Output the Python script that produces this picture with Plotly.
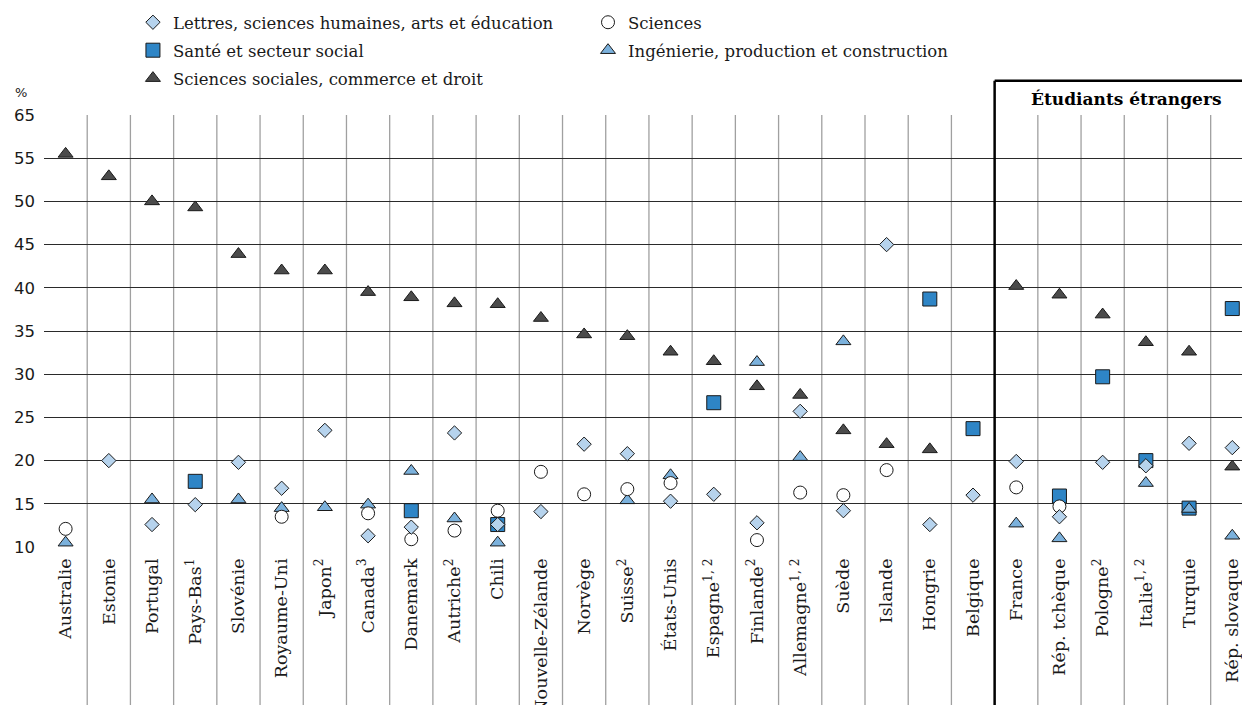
import plotly.graph_objects as go

countries = ["Australie", "Estonie", "Portugal", "Pays-Bas<sup>1</sup>", "Slovénie",
             "Royaume-Uni", "Japon<sup>2</sup>", "Canada<sup>3</sup>", "Danemark",
             "Autriche<sup>2</sup>", "Chili", "Nouvelle-Zélande", "Norvège",
             "Suisse<sup>2</sup>", "États-Unis", "Espagne<sup>1, 2</sup>",
             "Finlande<sup>2</sup>", "Allemagne<sup>1, 2</sup>", "Suède", "Islande",
             "Hongrie", "Belgique", "France", "Rép. tchèque", "Pologne<sup>2</sup>",
             "Italie<sup>1, 2</sup>", "Turquie", "Rép. slovaque"]

lettres = [None, 20.0, 12.6, 14.9, 19.8, 16.8, 23.5, 11.3, 12.3, 23.2, 12.6, 14.1, 21.9, 20.8,
           15.3, 16.1, 12.8, 25.7, 14.2, 45.0, 12.6, 16.0, 19.9, 13.5, 19.8, 19.4, 22.0, 21.5]
sante = [None, None, None, 17.6, None, None, None, None, 14.2, None, 12.6, None, None, None,
         None, 26.7, None, None, None, None, 38.7, 23.7, None, 15.9, 29.7, 20.0, 14.5, 37.6]
sociales = [55.5, 52.9, 50.0, 49.3, 43.9, 42.0, 42.0, 39.5, 38.9, 38.2, 38.1, 36.5, 34.6, 34.4,
            32.6, 31.5, 28.6, 27.6, 23.5, 21.9, 21.3, None, 40.2, 39.2, 36.9, 33.7, 32.6, 19.3]
sciences = [12.1, None, None, None, None, 13.5, None, 13.9, 10.9, 11.9, 14.2, 18.7, 16.1, 16.7,
            17.4, None, 10.8, 16.3, 16.0, 18.9, None, None, 16.9, 14.7, None, None, None, None]
ingenierie = [10.5, None, 15.5, None, 15.5, 14.5, 14.6, 14.9, 18.8, 13.3, 10.5, None, None, 15.4,
              18.3, None, 31.4, 20.4, 33.8, None, None, None, 12.7, 11.0, None, 17.4, 14.4, 11.3]

ytickvals = [10, 15, 20, 25, 30, 35, 40, 45, 50, 55, 60]
yticktext = ["10", "15", "20", "25", "30", "35", "40", "45", "50", "55", "65"]

LINE = dict(color="#1a1a1a", width=1)
series = [
    # name, values, symbol, fill, size, legend, rank (drawing order = list order)
    ("Santé et secteur social", sante, "square", "#2e85c6", 14, "legend", 2),
    ("Ingénierie, production et construction", ingenierie, "triangle-up", "#7bb1dc", 13, "legend2", 2),
    ("Sciences", sciences, "circle", "#ffffff", 13, "legend2", 1),
    ("Lettres, sciences humaines, arts et éducation", lettres, "diamond", "#b6d3ed", 11, "legend", 1),
    ("Sciences sociales, commerce et droit", sociales, "triangle-up", "#4b4b4b", 13, "legend", 3),
]

fig = go.Figure()
for name, vals, sym, col, sz, leg, rank in series:
    fig.add_trace(go.Scatter(
        x=countries, y=vals, mode="markers", name=name,
        marker=dict(symbol=sym, color=col, size=sz, line=LINE),
        legend=leg, legendrank=rank, legendgroup=name,
        cliponaxis=False,
    ))

shapes = []
ybot = -0.37
for i in range(len(countries) - 1):
    if i == 21:
        continue
    shapes.append(dict(type="line", xref="x", yref="paper", x0=i + 0.5, x1=i + 0.5,
                       y0=ybot, y1=1, line=dict(color="#a0a0a0", width=1.3), layer="below"))
# box for foreign students
boxtop = 1.0794
shapes.append(dict(type="line", xref="x", yref="paper", x0=21.5, x1=21.5, y0=ybot, y1=boxtop,
                   line=dict(color="#000000", width=2.5)))
shapes.append(dict(type="line", xref="x", yref="paper", x0=21.5, x1=28, y0=boxtop, y1=boxtop,
                   line=dict(color="#000000", width=2.5)))

legfont = dict(family="DejaVu Serif", size=16.5, color="#1a1a1a")
fig.update_layout(
    width=1242, height=697,
    margin=dict(l=36, r=0, t=107, b=158, autoexpand=False),
    paper_bgcolor="white", plot_bgcolor="white",
    shapes=shapes,
    xaxis=dict(type="category", range=[-0.5, 27.41], showgrid=False, zeroline=False,
               showline=False, tickangle=-90, ticks="", automargin=False,
               tickfont=dict(family="DejaVu Serif", size=17.5, color="#1a1a1a"),
               ticklabelstandoff=7),
    yaxis=dict(range=[10, 60], tickvals=ytickvals, ticktext=yticktext,
               showgrid=True, gridcolor="#2a2a2a", gridwidth=1, zeroline=False,
               showline=False, ticks="", automargin=False,
               tickfont=dict(family="DejaVu Sans", size=16.5, color="#1a1a1a"),
               ticklabelstandoff=8),
    legend=dict(xref="container", yref="paper", x=0.1006, y=1.2546,
                xanchor="left", yanchor="top", orientation="v",
                traceorder="grouped", tracegroupgap=3.5, font=legfont,
                bgcolor="rgba(0,0,0,0)"),
    legend2=dict(xref="container", yref="paper", x=0.467, y=1.2546,
                 xanchor="left", yanchor="top", orientation="v",
                 traceorder="grouped", tracegroupgap=3.5, font=legfont,
                 bgcolor="rgba(0,0,0,0)"),
    annotations=[
        dict(text="%", xref="paper", yref="paper", x=-0.019, y=1.051, showarrow=False,
             xanchor="center", yanchor="middle",
             font=dict(family="DejaVu Sans", size=13, color="#1a1a1a")),
        dict(text="<b>Étudiants étrangers</b>", xref="paper", yref="paper", x=0.8972, y=1.037,
             showarrow=False, xanchor="center", yanchor="middle",
             font=dict(family="DejaVu Serif", size=17, color="#000000")),
    ],
)

fig.write_html("out.html")
